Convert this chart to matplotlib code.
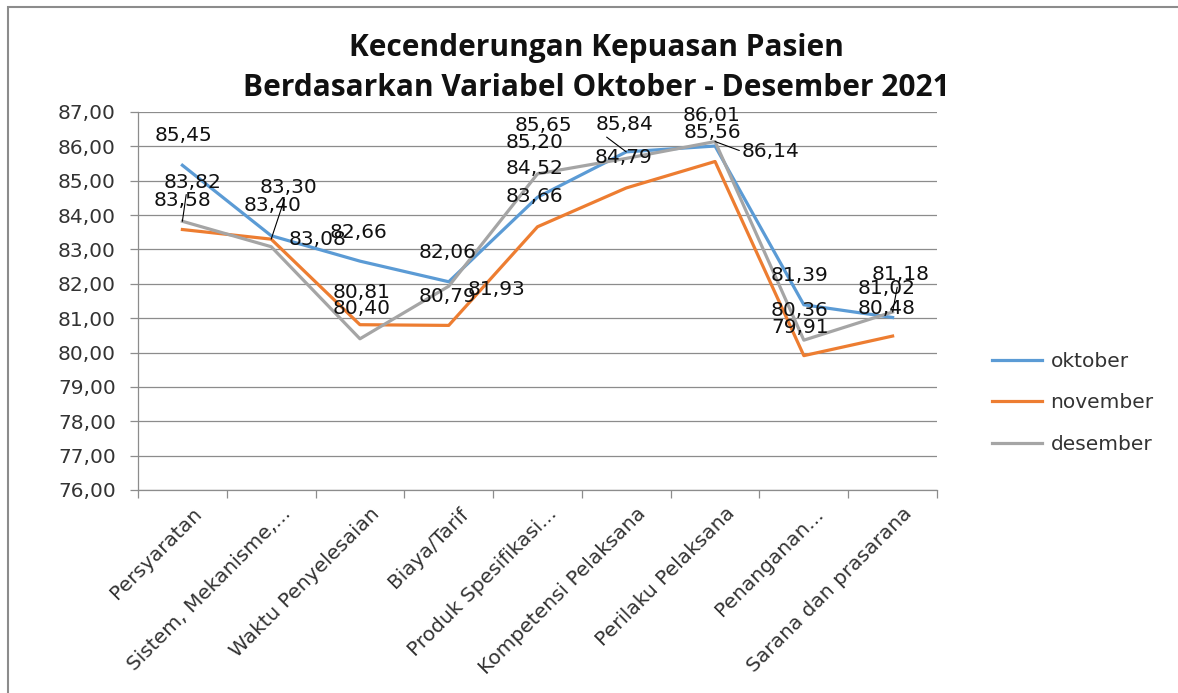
import matplotlib.pyplot as plt
import matplotlib.transforms as mtransforms
from matplotlib.patches import Rectangle
import numpy as np

categories = [
    "Persyaratan",
    "Sistem, Mekanisme,...",
    "Waktu Penyelesaian",
    "Biaya/Tarif",
    "Produk Spesifikasi...",
    "Kompetensi Pelaksana",
    "Perilaku Pelaksana",
    "Penanganan...",
    "Sarana dan prasarana",
]
oktober = [85.45, 83.40, 82.66, 82.06, 84.52, 85.84, 86.01, 81.39, 81.02]
november = [83.58, 83.30, 80.81, 80.79, 83.66, 84.79, 85.56, 79.91, 80.48]
desember = [83.82, 83.08, 80.40, 81.93, 85.20, 85.65, 86.14, 80.36, 81.18]
series_names = ["oktober", "november", "desember"]
y_ticks = [76, 77, 78, 79, 80, 81, 82, 83, 84, 85, 86, 87]

colors = ["#5B9BD5", "#ED7D31", "#A5A5A5"]

# label offsets in pixels (dx, dy), plus leader-line anchor on the moved labels
label_offsets = [
    [(1, 30), (1, 30), (-1, 29), (-1, 29), (-3, 29), (-2, 27), (-3, 31), (-4, 29), (-6, 29)],
    [(0, 29), (17, 52), (2, 32), (-1, 29), (-3, 30), (-3, 30), (-3, 29), (-4, 28), (-6, 28)],
    [(10, 39), (46, 7), (2, 30), (48, -3), (-3, 31), (-83, 33), (56, -10), (-4, 30), (8, 37)],
]
leaders = {
    (0, 5): (0.0, 0.3),
    (1, 1): (0.45, 0.0),
    (2, 0): (0.4, 0.0),
    (2, 6): (0.0, 0.5),
    (2, 8): (0.45, 0.0),
}

W, H = 1178, 693
fig = plt.figure(figsize=(W / 100, H / 100), dpi=100)
ax = fig.add_axes([138 / W, 1 - 490 / H, (937 - 138) / W, (490 - 112) / H])

x = np.arange(len(categories))
all_series = [oktober, november, desember]
for s, (vals, name, c) in enumerate(zip(all_series, series_names, colors)):
    ax.plot(x, vals, color=c, lw=2.3, label=name, zorder=3, solid_joinstyle="round")

for s, vals in enumerate(all_series):
    for i, v in enumerate(vals):
        dx, dy = label_offsets[s][i]
        kw = {}
        if (s, i) in leaders:
            kw["arrowprops"] = dict(arrowstyle="-", color="black", lw=0.8,
                                    shrinkA=0, shrinkB=0, relpos=leaders[(s, i)])
        ax.annotate(f"{v:.2f}".replace(".", ","), xy=(i, v), xytext=(dx, dy),
                    textcoords="offset pixels", ha="center", va="center",
                    fontsize=14.5, color="#111111", zorder=4, **kw)

ax.set_xlim(-0.5, len(categories) - 0.5)
ax.set_ylim(76, 87)
ax.set_yticks(y_ticks)
ax.set_yticklabels([f"{t:.2f}".replace(".", ",") for t in y_ticks])
ax.yaxis.grid(True, color="#8c8c8c", lw=0.9)
ax.set_axisbelow(True)

ax.set_xticks(x)
ax.set_xticklabels(categories, rotation=45, ha="right", rotation_mode="anchor")
ax.set_xticks(np.arange(len(categories) + 1) - 0.5, minor=True)
ax.tick_params(axis="x", which="major", length=0, pad=10, labelsize=14.5, labelcolor="#333333")
ax.tick_params(axis="x", which="minor", length=6, color="#8c8c8c", width=0.9)
ax.tick_params(axis="y", length=6, color="#8c8c8c", width=0.9, labelsize=14.5,
               labelcolor="#333333", pad=10)
shift = mtransforms.ScaledTranslation(10 / 100, 0, fig.dpi_scale_trans)
for lbl in ax.get_xticklabels():
    lbl.set_transform(lbl.get_transform() + shift)

for side in ["top", "right"]:
    ax.spines[side].set_visible(False)
for side in ["left", "bottom"]:
    ax.spines[side].set_color("#8c8c8c")
    ax.spines[side].set_linewidth(0.9)

fig.text(596 / W, 1 - 68 / H,
         "Kecenderungan Kepuasan Pasien\nBerdasarkan Variabel Oktober - Desember 2021",
         ha="center", va="center", fontsize=21.5, fontweight="bold",
         family="Open Sans", linespacing=1.42, color="#111111")

fig.legend(loc="center left", bbox_to_anchor=(984 / W, 1 - 403 / H), frameon=False,
           fontsize=14.5, handlelength=2.5, handletextpad=0.4, labelspacing=1.12,
           borderaxespad=0, labelcolor="#333333")

fig.patches.append(Rectangle((8 / W, -0.1), 2, 0.1 + 1 - 7 / H, transform=fig.transFigure,
                             fill=False, edgecolor="#8c8c8c", lw=1.5))

plt.savefig("out.png", dpi=100)
